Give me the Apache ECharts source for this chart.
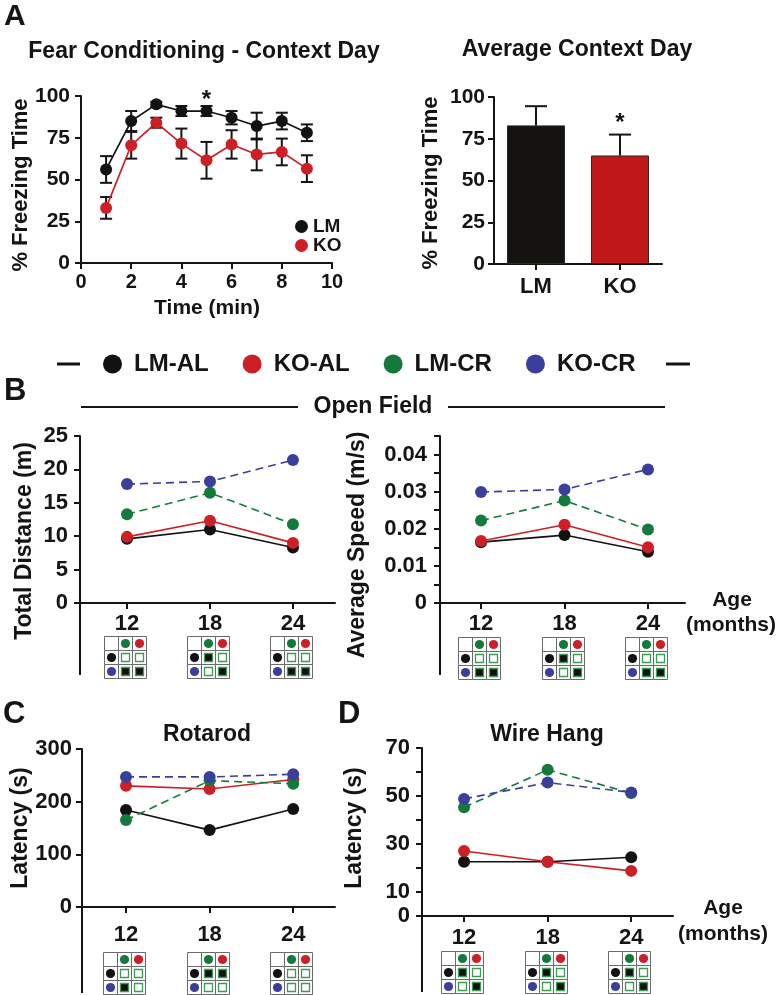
<!DOCTYPE html>
<html><head><meta charset="utf-8"><title>Behavior panels</title>
<script src="https://cdn.jsdelivr.net/npm/echarts@6.0.0/dist/echarts.min.js"></script>
<style>html,body{margin:0;padding:0;background:#fff;}#chart{width:780px;height:995px;}</style>
</head><body><div id="chart"></div>
<script>
// ================= DATA =================
// Panel A – Fear conditioning, context day
const fcTime   = [1, 2, 3, 4, 5, 6, 7, 8, 9];
const fcLM     = [56, 85, 95, 91, 91, 87, 82, 85, 78];
const fcLMerr  = [8, 6, 1.5, 3, 3, 4, 8, 5, 5];
const fcKO     = [33, 70.5, 84, 71.5, 61.5, 71, 65, 66.5, 56.5];
const fcKOerr  = [6.5, 8, 3, 9, 11, 8.5, 9.5, 8, 8];
const fcStarTimes = [5];
const fcXTicks = { min: 0, max: 10, step: 2 };
const fcYTicks = { min: 0, max: 100, step: 25 };

const avgGroups = ['LM', 'KO'];
const avgMean   = [83, 65];
const avgErr    = [11.5, 12.5];
const avgStarGroups = ['KO'];

// Panels B–D
const ages   = [12, 18, 24];
const groups = ['LM-AL', 'KO-AL', 'LM-CR', 'KO-CR'];

const distLMAL = [9.6, 11.0, 8.3];
const distKOAL = [9.9, 12.3, 9.0];
const distLMCR = [13.3, 16.5, 11.8];
const distKOCR = [17.8, 18.2, 21.4];
const distTicks = [0, 5, 10, 15, 20, 25];
const distLabels = [0, 5, 10, 15, 20, 25];

const speedLMAL = [0.0164, 0.0183, 0.0138];
const speedKOAL = [0.0167, 0.0211, 0.0150];
const speedLMCR = [0.0222, 0.0276, 0.0198];
const speedKOCR = [0.0299, 0.0306, 0.0360];
const speedTicks = [0, 0.005, 0.01, 0.015, 0.02, 0.025, 0.03, 0.035, 0.04, 0.045];
const speedLabels = [0, 0.01, 0.02, 0.03, 0.04];

const rotaLMAL = [184, 146, 186];
const rotaKOAL = [230, 224, 242];
const rotaLMCR = [165, 240, 234];
const rotaKOCR = [247, 247, 252];
const rotaTicks = [0, 100, 200, 300];
const rotaLabels = [0, 100, 200, 300];

const wireLMAL = [22.6, 22.6, 24.5];
const wireKOAL = [27.1, 22.6, 18.8];
const wireLMCR = [45.3, 60.9, 51.2];
const wireKOCR = [48.8, 55.6, 51.5];
const wireTicks = [0, 10, 20, 30, 40, 50, 60, 70];
const wireLabels = [0, 10, 30, 50, 70];

// Significance matrices under each age: rows = LM-AL, KO-CR ; cols = LM-CR, KO-AL (1 = filled)
const distSig  = [[[0,0],[1,1]], [[1,0],[0,1]], [[0,0],[1,1]]];
const speedSig = [[[0,0],[1,1]], [[1,0],[0,1]], [[0,0],[1,1]]];
const rotaSig  = [[[0,0],[1,0]], [[1,1],[0,0]], [[0,0],[0,0]]];
const wireSig  = [[[1,0],[0,1]], [[1,0],[0,1]], [[1,0],[0,1]]];

// ================= STYLE =================
const FONT = "'Liberation Sans', Arial, Helvetica, sans-serif";
const INK = '#141414';
const COL = { 'LM-AL': '#121212', 'KO-AL': '#cd1f26', 'LM-CR': '#137a3b', 'KO-CR': '#3b3f9c', 'LM': '#121212', 'KO': '#cd1f26' };
const BARCOL = { 'LM': '#15130f', 'KO': '#c1181c' };
const DASHED = { 'LM-CR': true, 'KO-CR': true };

function axisLine() { return { show: true, onZero: false, lineStyle: { color: INK, width: 2 } }; }
function tick(custom) { const t = { show: true, inside: false, length: 6, lineStyle: { color: INK, width: 2 } }; if (custom) t.customValues = custom; return t; }
function lab(size, margin, custom, fmt) {
  const l = { show: true, color: INK, fontFamily: FONT, fontWeight: 'bold', fontSize: size, margin: margin };
  if (custom) l.customValues = custom;
  if (fmt) l.formatter = fmt;
  return l;
}

// ---------- renderers ----------
function errRenderer(capHalf, upOnly) {
  return function (params, api) {
    const x = api.value(0), m = api.value(1), e = api.value(2);
    const top = api.coord([x, m + e]);
    const base = api.coord([x, upOnly ? m : m - e]);
    const st = { stroke: INK, lineWidth: 2 };
    const ch = [
      { type: 'line', shape: { x1: top[0], y1: top[1], x2: base[0], y2: base[1] }, style: st },
      { type: 'line', shape: { x1: top[0] - capHalf, y1: top[1], x2: top[0] + capHalf, y2: top[1] }, style: st }
    ];
    if (!upOnly) ch.push({ type: 'line', shape: { x1: base[0] - capHalf, y1: base[1], x2: base[0] + capHalf, y2: base[1] }, style: st });
    return { type: 'group', children: ch };
  };
}
function starRenderer(pxAbove) {
  return function (params, api) {
    const p = api.coord([api.value(0), api.value(1)]);
    return { type: 'text', x: p[0], y: p[1] - pxAbove + 5,
      style: { text: '*', fontSize: 24, fontWeight: 'bold', fontFamily: FONT, fill: INK, align: 'center', verticalAlign: 'middle' } };
  };
}
// significance matrix drawn under each age tick; the first item also extends the y-axis line downward
function iconRenderer(sig, offset, axisExt) {
  return function (params, api) {
    const p = api.coord([api.value(0), 0]);
    const s = sig[api.value(1)];
    const cs = 14;
    const x0 = Math.round(p[0] - 1.5 * cs - 2) + 0.5;
    const y0 = Math.round(p[1] + offset) + 0.5;
    const ch = [];
    if (params.dataIndex === 0) {
      const cx = params.coordSys.x, by = params.coordSys.y + params.coordSys.height;
      ch.push({ type: 'line', shape: { x1: cx, y1: by, x2: cx, y2: by + axisExt }, style: { stroke: INK, lineWidth: 2 } });
    }
    for (let r = 0; r < 3; r++) for (let c = 0; c < 3; c++)
      ch.push({ type: 'rect', shape: { x: x0 + c * cs, y: y0 + r * cs, width: cs, height: cs }, style: { fill: '#fff', stroke: '#6a6a6a', lineWidth: 1 } });
    const dot = (r, c, col) => ({ type: 'circle', shape: { cx: x0 + c * cs + cs / 2, cy: y0 + r * cs + cs / 2, r: 4.6 }, style: { fill: col } });
    ch.push(dot(0, 1, COL['LM-CR']), dot(0, 2, COL['KO-AL']), dot(1, 0, COL['LM-AL']), dot(2, 0, COL['KO-CR']));
    for (let r = 0; r < 2; r++) for (let c = 0; c < 2; c++) {
      ch.push({ type: 'rect', shape: { x: x0 + (c + 1) * cs + 3, y: y0 + (r + 1) * cs + 3, width: cs - 6, height: cs - 6 },
        style: { fill: s[r][c] ? '#111' : '#fff', stroke: '#3a9d52', lineWidth: 1.3 } });
    }
    return { type: 'group', children: ch };
  };
}

// ---------- panels B–D ----------
const panels = [
  { grid: { left: 80, top: 436, width: 255, height: 167 }, xr: [8.6, 27.04], yr: [0, 25], ticks: distTicks, labels: distLabels,
    vals: { 'LM-AL': distLMAL, 'KO-AL': distKOAL, 'LM-CR': distLMCR, 'KO-CR': distKOCR }, sig: distSig, xm: 10, ym: 12, icon: 33, ext: 72 },
  { grid: { left: 440, top: 436, width: 245, height: 167 }, xr: [9.05, 26.66], yr: [0, 0.045], ticks: speedTicks, labels: speedLabels,
    fmt: v => (v === 0 ? '0' : (+v).toFixed(2)),
    vals: { 'LM-AL': speedLMAL, 'KO-AL': speedKOAL, 'LM-CR': speedLMCR, 'KO-CR': speedKOCR }, sig: speedSig, xm: 10, ym: 13, icon: 34, ext: 72 },
  { grid: { left: 82, top: 749, width: 253, height: 158 }, xr: [8.84, 27.0], yr: [0, 300], ticks: rotaTicks, labels: rotaLabels,
    vals: { 'LM-AL': rotaLMAL, 'KO-AL': rotaKOAL, 'LM-CR': rotaLMCR, 'KO-CR': rotaKOCR }, sig: rotaSig, xm: 17, ym: 10, icon: 45, ext: 86 },
  { grid: { left: 422, top: 748, width: 251, height: 168 }, xr: [8.98, 27.0], yr: [0, 70], ticks: wireTicks, labels: wireLabels,
    vals: { 'LM-AL': wireLMAL, 'KO-AL': wireKOAL, 'LM-CR': wireLMCR, 'KO-CR': wireKOCR }, sig: wireSig, xm: 11, ym: 12, icon: 35, ext: 76 }
];

const grids = [
  { left: 81, top: 96, width: 251, height: 167 },
  { left: 494, top: 97, width: 168, height: 167 }
];
const xAxes = [
  { type: 'value', gridIndex: 0, min: fcXTicks.min, max: fcXTicks.max, interval: fcXTicks.step, splitLine: { show: false },
    axisLine: axisLine(), axisTick: tick(), axisLabel: lab(20, 9) },
  { type: 'category', gridIndex: 1, data: avgGroups, axisLine: axisLine(),
    axisTick: Object.assign(tick(), { alignWithLabel: true }), axisLabel: lab(22, 12) }
];
const yAxes = [
  { type: 'value', gridIndex: 0, min: fcYTicks.min, max: fcYTicks.max, interval: fcYTicks.step, splitLine: { show: false },
    axisLine: axisLine(), axisTick: tick(), axisLabel: lab(21, 11) },
  { type: 'value', gridIndex: 1, min: fcYTicks.min, max: fcYTicks.max, interval: fcYTicks.step, splitLine: { show: false },
    axisLine: axisLine(), axisTick: tick(), axisLabel: lab(21, 9) }
];
const series = [];

// Panel A left
series.push({ type: 'custom', name: 'errLM', xAxisIndex: 0, yAxisIndex: 0, z: 1, clip: false, silent: true,
  renderItem: errRenderer(6, false), data: fcTime.map((t, i) => [t, fcLM[i], fcLMerr[i]]) });
series.push({ type: 'custom', name: 'errKO', xAxisIndex: 0, yAxisIndex: 0, z: 1, clip: false, silent: true,
  renderItem: errRenderer(6, false), data: fcTime.map((t, i) => [t, fcKO[i], fcKOerr[i]]) });
[['LM', fcLM], ['KO', fcKO]].forEach(([n, arr]) => {
  series.push({ type: 'line', name: n, xAxisIndex: 0, yAxisIndex: 0, z: 3, symbol: 'circle', symbolSize: 12,
    itemStyle: { color: COL[n] }, lineStyle: { color: COL[n], width: 1.7 }, data: fcTime.map((t, i) => [t, arr[i]]) });
});
series.push({ type: 'custom', name: 'starA', xAxisIndex: 0, yAxisIndex: 0, z: 4, clip: false, silent: true,
  renderItem: starRenderer(11), data: fcStarTimes.map(t => { const i = fcTime.indexOf(t); return [t, Math.max(fcLM[i] + fcLMerr[i], fcKO[i] + fcKOerr[i])]; }) });

// Panel A right
series.push({ type: 'bar', name: 'Average Context Day', xAxisIndex: 1, yAxisIndex: 1, barWidth: 58, z: 2,
  data: avgGroups.map((g, i) => ({ value: avgMean[i], itemStyle: { color: BARCOL[g], borderColor: '#2a2a2a', borderWidth: 1 } })) });
series.push({ type: 'custom', name: 'errBar', xAxisIndex: 1, yAxisIndex: 1, z: 3, clip: false, silent: true,
  renderItem: errRenderer(11, true), data: avgGroups.map((g, i) => [i, avgMean[i], avgErr[i]]) });
series.push({ type: 'custom', name: 'starBar', xAxisIndex: 1, yAxisIndex: 1, z: 4, clip: false, silent: true,
  renderItem: starRenderer(16), data: avgStarGroups.map(g => { const i = avgGroups.indexOf(g); return [i, avgMean[i] + avgErr[i]]; }) });

panels.forEach((P, k) => {
  const gi = k + 2;
  grids.push(P.grid);
  xAxes.push({ type: 'value', gridIndex: gi, min: P.xr[0], max: P.xr[1], splitLine: { show: false },
    axisLine: axisLine(), axisTick: tick(ages), axisLabel: lab(22, P.xm, ages) });
  yAxes.push({ type: 'value', gridIndex: gi, min: P.yr[0], max: P.yr[1], splitLine: { show: false },
    axisLine: axisLine(), axisTick: tick(P.ticks), axisLabel: lab(22, P.ym, P.labels, P.fmt) });
  groups.forEach((g, j) => {
    series.push({ type: 'line', name: g, xAxisIndex: gi, yAxisIndex: gi, z: 3 + j * 0.1, symbol: 'circle', symbolSize: 12,
      itemStyle: { color: COL[g] }, lineStyle: { color: COL[g], width: 1.6, type: DASHED[g] ? [8, 5] : 'solid' },
      data: ages.map((a, i) => [a, P.vals[g][i]]) });
  });
  series.push({ type: 'custom', name: 'sig' + k, xAxisIndex: gi, yAxisIndex: gi, z: 5, clip: false, silent: true,
    renderItem: iconRenderer(P.sig, P.icon, P.ext), data: ages.map((a, i) => [a, i]) });
});
grids.forEach(g => { g.outerBoundsMode = 'none'; g.containLabel = false; });

// ---------- text / decorations ----------
function T(text, x, y, size, opt) {
  opt = opt || {};
  return { type: 'text', x: x, y: y, rotation: opt.rot ? Math.PI / 2 : 0, silent: true, z: 10,
    style: { text: text, fontSize: size, fontWeight: 'bold', fontFamily: FONT, fill: INK,
      align: opt.align || 'center', verticalAlign: 'middle' } };
}
function L(x1, y1, x2, y2, w) {
  return { type: 'line', silent: true, z: 10, shape: { x1: x1, y1: y1, x2: x2, y2: y2 }, style: { stroke: INK, lineWidth: w || 2 } };
}
const graphics = [
  T('A', 4, 17, 30, { align: 'left' }),
  T('Fear Conditioning - Context Day', 204, 52, 23),
  T('Average Context Day', 577, 50, 23),
  T('% Freezing Time', 21, 185, 22, { rot: true }),
  T('% Freezing Time', 431, 183, 22, { rot: true }),
  T('Time (min)', 207, 308, 21),
  L(57, 364, 80, 364, 3), L(666, 364, 690, 364, 3),
  T('B', 4, 391, 31, { align: 'left' }),
  L(81, 407, 298, 407, 2), T('Open Field', 373, 407, 23), L(448, 407, 665, 407, 2),
  T('Total Distance (m)', 25, 541, 23, { rot: true }),
  T('Average Speed (m/s)', 358, 545, 23, { rot: true }),
  T('Age', 732, 600, 21), T('(months)', 731, 625, 21),
  T('C', 3, 714, 31, { align: 'left' }), T('D', 338, 714, 31, { align: 'left' }),
  T('Rotarod', 207, 735, 23), T('Wire Hang', 547, 735, 23),
  T('Latency (s)', 21, 828, 23, { rot: true }), T('Latency (s)', 355, 828, 23, { rot: true }),
  T('Age', 723, 908, 21), T('(months)', 723, 934, 21)
];

const option = {
  animation: false,
  backgroundColor: '#fff',
  grid: grids,
  xAxis: xAxes,
  yAxis: yAxes,
  legend: [
    { data: groups, left: 103, top: 352, padding: 0, icon: 'circle', itemWidth: 19, itemHeight: 19, itemGap: 34,
      selectedMode: false, textStyle: { fontFamily: FONT, fontWeight: 'bold', fontSize: 24, color: INK, padding: [0, 0, 0, 7] } },
    { data: ['LM', 'KO'], orient: 'vertical', left: 295, top: 217, padding: 0, icon: 'circle', itemWidth: 13, itemHeight: 13, itemGap: 0,
      selectedMode: false, textStyle: { fontFamily: FONT, fontWeight: 'bold', fontSize: 19, color: INK } }
  ],
  series: series,
  graphic: graphics
};
const chart = echarts.init(document.getElementById('chart'), null, { renderer: 'canvas' });
chart.setOption(option);
</script>
</body></html>
